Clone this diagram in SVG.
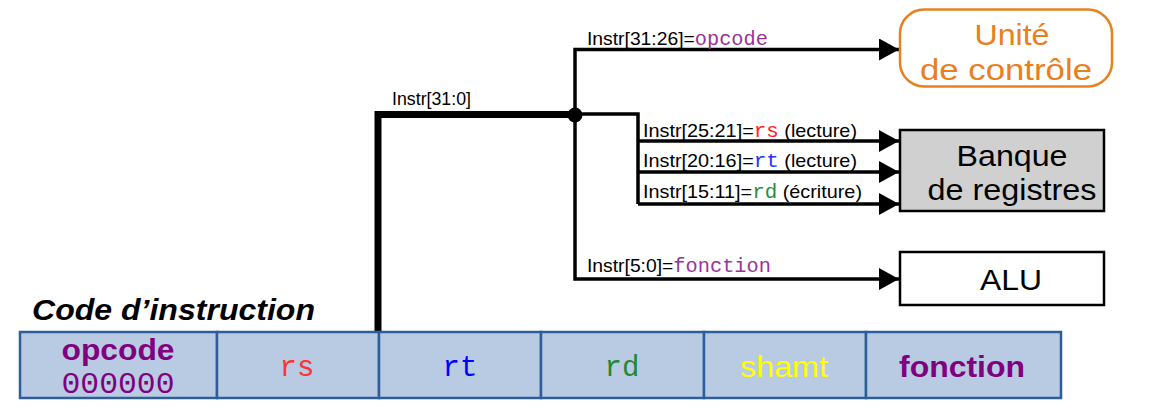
<svg xmlns="http://www.w3.org/2000/svg" width="1172" height="409" viewBox="0 0 1172 409">
<style>
.lbl{font-family:"Liberation Sans",Arial,sans-serif;font-size:18.5px;fill:#000}
.mono{font-family:"Liberation Mono","Courier New",monospace;font-size:19.5px}
.big{font-family:"Liberation Sans",Arial,sans-serif;font-size:30px;text-anchor:middle}
.wire{fill:none;stroke:#000;stroke-width:3.5;stroke-linejoin:miter}
.cell{fill:#B8CBE2;stroke:#2E5E9A;stroke-width:2.5}
</style>
<defs>
<marker id="arr" viewBox="0 0 20 22" refX="20" refY="11" markerWidth="20" markerHeight="22" markerUnits="userSpaceOnUse" orient="auto">
<path d="M0,0 L20,11 L0,22 Z" fill="#000"/>
</marker>
</defs>
<g id="connectors">
<path class="wire" d="M378,332 V114.5 H575" style="stroke-width:7"/>
<path class="wire" d="M575,114.5 V49.5 H899" marker-end="url(#arr)"/>
<path class="wire" d="M575,114 H638 V204"/>
<path class="wire" d="M638,141 H899" marker-end="url(#arr)"/>
<path class="wire" d="M638,172 H899" marker-end="url(#arr)"/>
<path class="wire" d="M638,204 H899" marker-end="url(#arr)"/>
<path class="wire" d="M575,114 V279 H899" marker-end="url(#arr)"/>
<circle cx="575" cy="115" r="7.5" fill="#000"/>
<text class="lbl" x="392" y="105" textLength="79" lengthAdjust="spacingAndGlyphs">Instr[31:0]</text>
<text class="lbl" x="587" y="45" textLength="181" lengthAdjust="spacingAndGlyphs">Instr[31:26]=<tspan class="mono" fill="#993399">opcode</tspan></text>
<text class="lbl" x="643" y="137" textLength="214" lengthAdjust="spacingAndGlyphs">Instr[25:21]=<tspan class="mono" fill="#FF2222">rs</tspan> (lecture)</text>
<text class="lbl" x="643" y="167" textLength="214" lengthAdjust="spacingAndGlyphs">Instr[20:16]=<tspan class="mono" fill="#2233FF">rt</tspan> (lecture)</text>
<text class="lbl" x="643" y="198" textLength="219" lengthAdjust="spacingAndGlyphs">Instr[15:11]=<tspan class="mono" fill="#2E8B3E">rd</tspan> (écriture)</text>
<text class="lbl" x="587" y="272" textLength="184" lengthAdjust="spacingAndGlyphs">Instr[5:0]=<tspan class="mono" fill="#993399">fonction</tspan></text>
</g>
<g id="controle">
<rect x="900" y="9.5" width="212" height="77" rx="24" fill="#fff" stroke="#E8801E" stroke-width="2.5"/>
<text class="big" x="1012" y="45" fill="#E8801E" textLength="75" lengthAdjust="spacingAndGlyphs">Unité</text>
<text class="big" x="1006" y="80" fill="#E8801E" textLength="172" lengthAdjust="spacingAndGlyphs">de contrôle</text>
</g>
<g id="registres">
<rect x="900" y="130" width="204" height="81" fill="#D0D0D0" stroke="#000" stroke-width="2.5"/>
<text class="big" x="1012" y="166" textLength="111" lengthAdjust="spacingAndGlyphs">Banque</text>
<text class="big" x="1012" y="200" textLength="169" lengthAdjust="spacingAndGlyphs">de registres</text>
</g>
<g id="alu">
<rect x="900" y="252" width="204" height="53" fill="#fff" stroke="#000" stroke-width="2.5"/>
<text class="big" x="1011" y="290" textLength="62" lengthAdjust="spacingAndGlyphs">ALU</text>
</g>
<g id="instruction">
<text x="32" y="320" font-family="Liberation Sans,Arial,sans-serif" font-size="29" font-weight="bold" font-style="italic" textLength="283" lengthAdjust="spacingAndGlyphs">Code d’instruction</text>
<rect class="cell" x="20" y="332" width="197" height="66"/>
<rect class="cell" x="217" y="332" width="162" height="66"/>
<rect class="cell" x="379" y="332" width="162" height="66"/>
<rect class="cell" x="541" y="332" width="163" height="66"/>
<rect class="cell" x="704" y="332" width="162" height="66"/>
<rect class="cell" x="866" y="332" width="195" height="66"/>
<text class="big" x="118" y="360" fill="#800080" font-weight="bold" textLength="113" lengthAdjust="spacingAndGlyphs">opcode</text>
<text x="118" y="393" font-family="Liberation Mono,Courier New,monospace" font-size="30" text-anchor="middle" fill="#800080" textLength="113" lengthAdjust="spacingAndGlyphs">000000</text>
<text x="297" y="376" font-family="Liberation Mono,Courier New,monospace" font-size="29" text-anchor="middle" fill="#FF3333">rs</text>
<text x="460" y="376" font-family="Liberation Mono,Courier New,monospace" font-size="29" text-anchor="middle" fill="#0000FF">rt</text>
<text x="622" y="376" font-family="Liberation Mono,Courier New,monospace" font-size="29" text-anchor="middle" fill="#228833">rd</text>
<text class="big" x="784" y="377" fill="#FFFF00" textLength="88" lengthAdjust="spacingAndGlyphs">shamt</text>
<text class="big" x="962" y="377" fill="#800080" font-weight="bold" textLength="126" lengthAdjust="spacingAndGlyphs">fonction</text>
</g>
</svg>
